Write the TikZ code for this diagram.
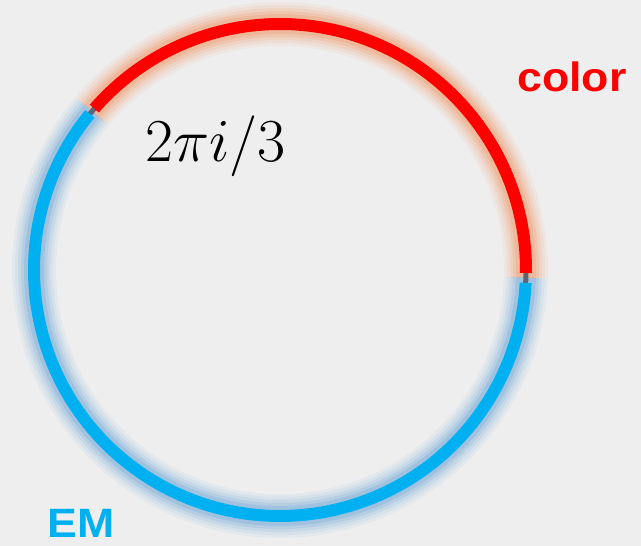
\RequirePackage{fix-cm}
\documentclass[tikz,border=0pt]{standalone}
\usepackage{fontspec}
\newfontfamily\labelfont{Liberation Sans}[FakeStretch=1.09]
\definecolor{bggray}{HTML}{EEEEEE}
\definecolor{colred}{HTML}{FF0000}
\definecolor{emblue}{HTML}{00B0F0}
\definecolor{redglow}{HTML}{F08A50}
\definecolor{blueglow}{HTML}{5B9BD5}
\definecolor{joint}{HTML}{5E6577}
\tikzset{
  ring/.style={line width=12pt},
  tick/.style={line width=5pt,draw=joint},
  label/.style={anchor=base west,inner sep=0pt,font=\fontsize{41}{49}\selectfont\labelfont\bfseries}
}
\begin{document}
\begin{tikzpicture}[x=1pt,y=1pt]
\fill[bggray] (0,0) rectangle (641,546);
\useasboundingbox (0,0) rectangle (641,546);
\coordinate (c) at (280,276);
% glow
\foreach \w/\o in {44/0.07,38/0.09,32/0.12,26/0.16,20/0.22}{
  \draw[line width=\w pt,draw=redglow,draw opacity=\o] (c) ++(-1.8:246) arc[start angle=-1.8,end angle=139.8,radius=246];
  \draw[line width=\w pt,draw=blueglow,draw opacity=\o] (c) ++(139.8:246) arc[start angle=139.8,end angle=358.2,radius=246];
}
% joints
\draw[tick] (c) ++(-3.4:246) arc[start angle=-3.4,end angle=0,radius=246];
\draw[tick] (c) ++(138.5:246) arc[start angle=138.5,end angle=141.2,radius=246];
% arcs
\draw[ring,draw=colred] (c) ++(-0.7:246) arc[start angle=-0.7,end angle=139,radius=246];
\draw[ring,draw=emblue] (c) ++(140.6:246) arc[start angle=140.6,end angle=357,radius=246];
% labels
\node[anchor=base west,inner sep=0pt,font=\fontsize{61}{72}\selectfont] (phase) at (145,384) {$2\pi i/3$};
\node[label,text=colred] (color) at (517,454) {color};
\node[label,text=emblue] (em) at (47,8) {EM};
\end{tikzpicture}
\end{document}
